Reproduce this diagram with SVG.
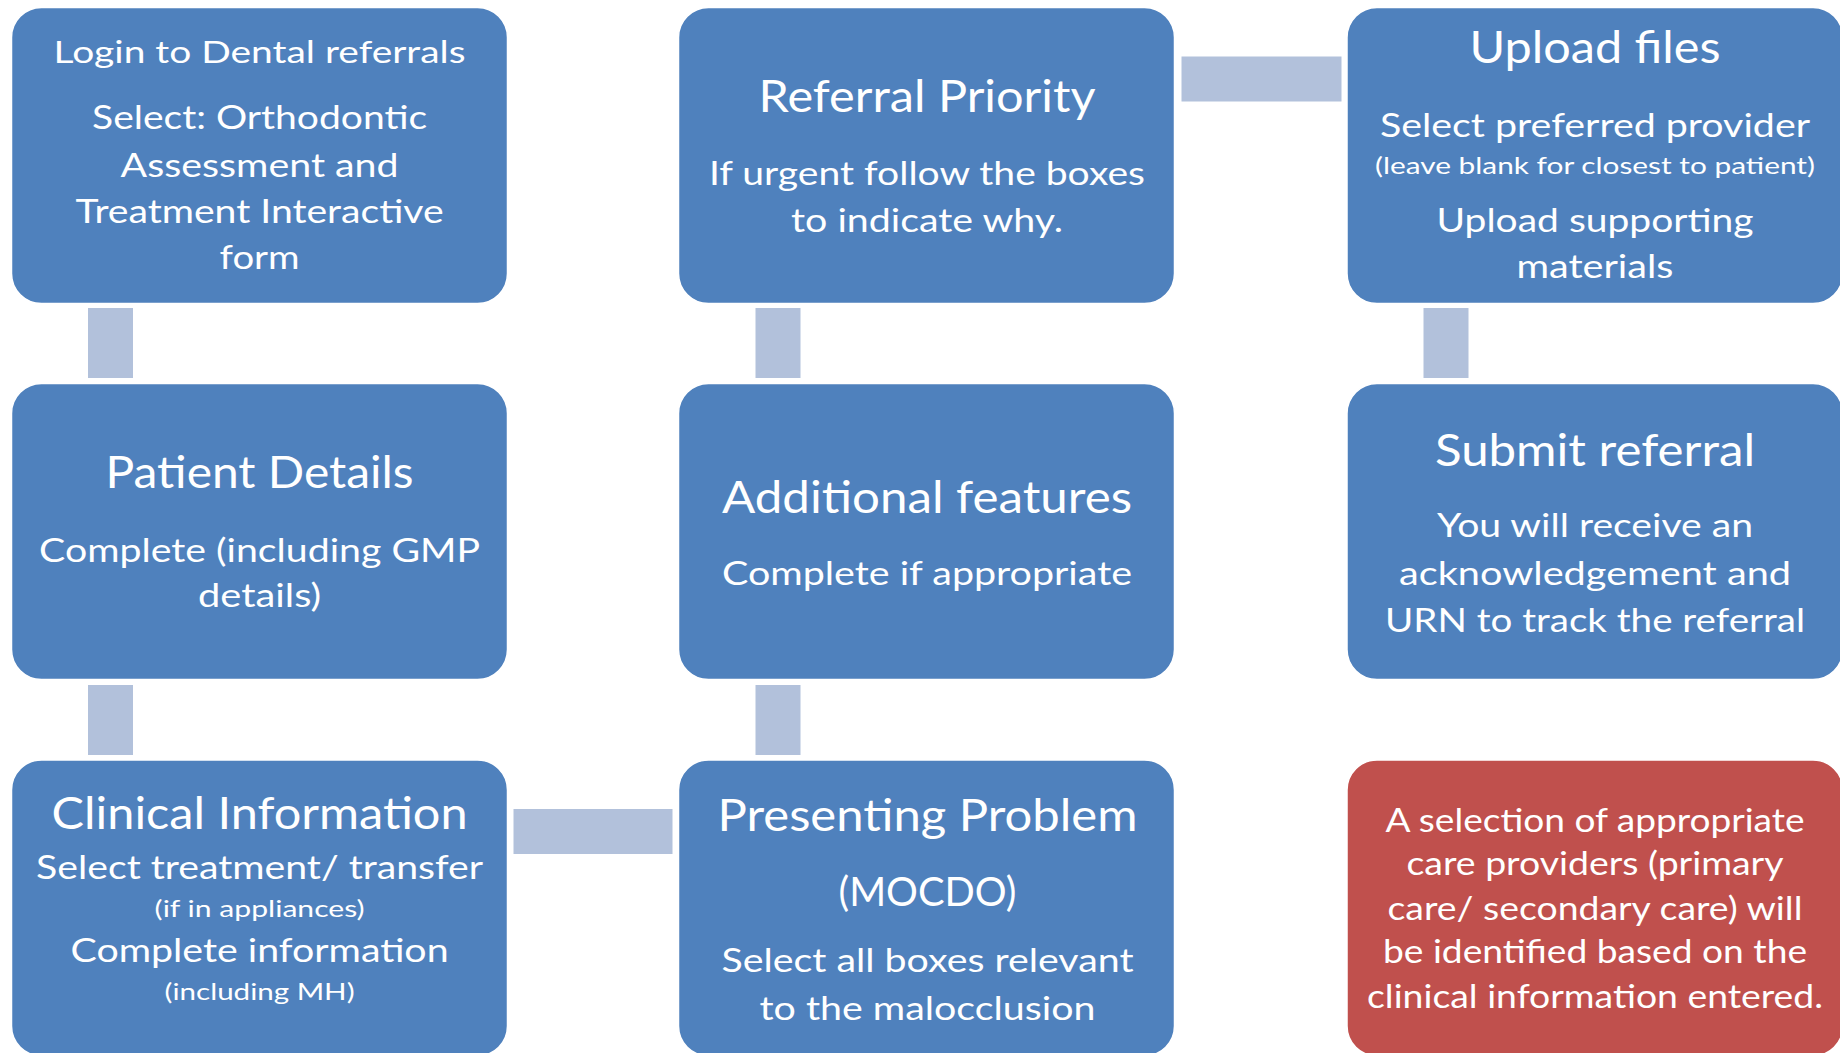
<svg xmlns="http://www.w3.org/2000/svg" width="1840" height="1053" viewBox="0 0 1840 1053">
<style>
.box{fill:#4F81BD;stroke:#ffffff;stroke-width:1.5}
.red{fill:#C0504D;stroke:#ffffff;stroke-width:1.5}
.conn{fill:#B2C1DB}
text{fill:#ffffff;font-family:Lato,"Open Sans","Liberation Sans",sans-serif;text-anchor:middle}
.t1{font-size:44px}
.t2{font-size:33px}
.t3{font-size:24px}
</style>
<rect width="1840" height="1053" fill="#ffffff"/>
<g id="connectors">
<rect class="conn" x="88" y="308" width="45" height="70"/>
<rect class="conn" x="88" y="685" width="45" height="70"/>
<rect class="conn" x="755.5" y="308" width="45" height="70"/>
<rect class="conn" x="755.5" y="685" width="45" height="70"/>
<rect class="conn" x="1423.5" y="308" width="45" height="70"/>
<rect class="conn" x="1181.5" y="56.5" width="160" height="45"/>
<rect class="conn" x="513.5" y="809" width="159" height="45"/>
</g>
<g id="login">
<rect class="box" x="11.5" y="7.5" width="496" height="296" rx="30"/>
<text class="t2" x="259.6" y="63.3" style="font-size:30px" textLength="412" lengthAdjust="spacingAndGlyphs">Login to Dental referrals</text>
<text class="t2" x="259.6" y="129.3" textLength="335" lengthAdjust="spacingAndGlyphs">Select: Orthodontic</text>
<text class="t2" x="259.6" y="176.7" textLength="278" lengthAdjust="spacingAndGlyphs">Assessment and</text>
<text class="t2" x="259.6" y="223.3" textLength="368" lengthAdjust="spacingAndGlyphs">Treatment Interactive</text>
<text class="t2" x="259.6" y="269.3" textLength="80" lengthAdjust="spacingAndGlyphs">form</text>
</g>
<g id="referral-priority">
<rect class="box" x="678.5" y="7.5" width="496" height="296" rx="30"/>
<text class="t1" x="927" y="111.7" textLength="337" lengthAdjust="spacingAndGlyphs">Referral Priority</text>
<text class="t2" x="927" y="185" textLength="436" lengthAdjust="spacingAndGlyphs">If urgent follow the boxes</text>
<text class="t2" x="927" y="231.7" textLength="272" lengthAdjust="spacingAndGlyphs">to indicate why.</text>
</g>
<g id="upload-files">
<rect class="box" x="1347" y="7.5" width="496" height="296" rx="30"/>
<text class="t1" x="1595" y="63.3" textLength="251" lengthAdjust="spacingAndGlyphs">Upload files</text>
<text class="t2" x="1595" y="136.7" textLength="430" lengthAdjust="spacingAndGlyphs">Select preferred provider</text>
<text class="t3" x="1595" y="174" textLength="440" lengthAdjust="spacingAndGlyphs">(leave blank for closest to patient)</text>
<text class="t2" x="1595" y="231.7" textLength="317" lengthAdjust="spacingAndGlyphs">Upload supporting</text>
<text class="t2" x="1595" y="278.3" textLength="157" lengthAdjust="spacingAndGlyphs">materials</text>
</g>
<g id="patient-details">
<rect class="box" x="11.5" y="383.5" width="496" height="296" rx="30"/>
<text class="t1" x="259.6" y="488.3" textLength="308" lengthAdjust="spacingAndGlyphs">Patient Details</text>
<text class="t2" x="259.6" y="561.7" textLength="441" lengthAdjust="spacingAndGlyphs">Complete (including GMP</text>
<text class="t2" x="259.6" y="606.7" textLength="123" lengthAdjust="spacingAndGlyphs">details)</text>
</g>
<g id="additional-features">
<rect class="box" x="678.5" y="383.5" width="496" height="296" rx="30"/>
<text class="t1" x="927" y="512.7" textLength="410" lengthAdjust="spacingAndGlyphs">Additional features</text>
<text class="t2" x="927" y="585" textLength="410" lengthAdjust="spacingAndGlyphs">Complete if appropriate</text>
</g>
<g id="submit-referral">
<rect class="box" x="1347" y="383.5" width="496" height="296" rx="30"/>
<text class="t1" x="1595" y="466" textLength="320" lengthAdjust="spacingAndGlyphs">Submit referral</text>
<text class="t2" x="1595" y="537.3" textLength="316" lengthAdjust="spacingAndGlyphs">You will receive an</text>
<text class="t2" x="1595" y="585" textLength="392" lengthAdjust="spacingAndGlyphs">acknowledgement and</text>
<text class="t2" x="1595" y="631.7" textLength="420" lengthAdjust="spacingAndGlyphs">URN to track the referral</text>
</g>
<g id="clinical-information">
<rect class="box" x="11.5" y="760" width="496" height="296" rx="30"/>
<text class="t1" x="259.6" y="829.3" textLength="416" lengthAdjust="spacingAndGlyphs">Clinical Information</text>
<text class="t2" x="259.6" y="879.3" textLength="447" lengthAdjust="spacingAndGlyphs">Select treatment/ transfer</text>
<text class="t3" x="259.6" y="917.3" textLength="210" lengthAdjust="spacingAndGlyphs">(if in appliances)</text>
<text class="t2" x="259.6" y="961.7" textLength="378" lengthAdjust="spacingAndGlyphs">Complete information</text>
<text class="t3" x="259.6" y="1000" textLength="190" lengthAdjust="spacingAndGlyphs">(including MH)</text>
</g>
<g id="presenting-problem">
<rect class="box" x="678.5" y="760" width="496" height="296" rx="30"/>
<text class="t1" x="927.5" y="830.7" textLength="420" lengthAdjust="spacingAndGlyphs">Presenting Problem</text>
<text class="t1" x="927.5" y="905.7" style="font-size:40px" textLength="178" lengthAdjust="spacingAndGlyphs">(MOCDO)</text>
<text class="t2" x="927.5" y="971.7" textLength="412" lengthAdjust="spacingAndGlyphs">Select all boxes relevant</text>
<text class="t2" x="927.5" y="1020" textLength="336" lengthAdjust="spacingAndGlyphs">to the malocclusion</text>
</g>
<g id="care-providers-note">
<rect class="red" x="1347" y="760" width="496" height="296" rx="30"/>
<text class="t2" x="1595" y="831.7" textLength="419" lengthAdjust="spacingAndGlyphs">A selection of appropriate</text>
<text class="t2" x="1595" y="875" textLength="377" lengthAdjust="spacingAndGlyphs">care providers (primary</text>
<text class="t2" x="1595" y="920" textLength="415" lengthAdjust="spacingAndGlyphs">care/ secondary care) will</text>
<text class="t2" x="1595" y="963.3" textLength="424" lengthAdjust="spacingAndGlyphs">be identified based on the</text>
<text class="t2" x="1595" y="1008.3" textLength="456" lengthAdjust="spacingAndGlyphs">clinical information entered.</text>
</g>
</svg>
